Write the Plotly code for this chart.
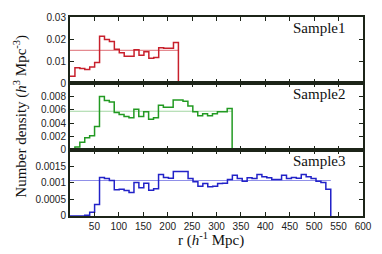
import numpy as np
import plotly.graph_objects as go
from plotly.subplots import make_subplots

# ---- data ----
sample_names = ["Sample1", "Sample2", "Sample3"]
r_max = [222, 332, 534]
mean_density = [0.0149, 0.0058, 0.00107]

sample1 = [0.0032, 0.0071, 0.0067, 0.0062, 0.0074, 0.0094, 0.0213, 0.0198, 0.0189, 0.0154,
           0.0138, 0.0123, 0.0123, 0.0152, 0.0127, 0.0143, 0.0113, 0.0117, 0.0161, 0.0159,
           0.0159, 0.0185]
sample2 = [0.0, 0.0004, 0.0011, 0.0018, 0.0021, 0.0035, 0.0080, 0.0074, 0.0072, 0.0056,
           0.0053, 0.0050, 0.0048, 0.0061, 0.0050, 0.0057, 0.0046, 0.0048, 0.0067, 0.0064,
           0.0064, 0.0075, 0.0075, 0.0073, 0.0066, 0.0057, 0.0051, 0.0054, 0.0051, 0.0054,
           0.0057, 0.0057, 0.0062]
sample3 = [0.0, 0.0, 0.0, 0.00002, 0.00011, 0.00035, 0.00116, 0.00113, 0.00107, 0.00079,
           0.00081, 0.00077, 0.00071, 0.00101, 0.00085, 0.00099, 0.00078, 0.00082, 0.00125, 0.00116,
           0.00114, 0.00134, 0.00134, 0.00134, 0.00113, 0.00103, 0.00090, 0.00098, 0.00088, 0.00090,
           0.00098, 0.00099, 0.00110, 0.00123, 0.00113, 0.00105, 0.00115, 0.00113, 0.00125, 0.00118,
           0.00115, 0.00110, 0.00110, 0.00123, 0.00113, 0.00116, 0.00114, 0.00125, 0.00118, 0.00113,
           0.00105, 0.00101, 0.00081]
series = [sample1, sample2, sample3]

y_ranges = [[0, 0.03], [0, 0.01], [0, 0.002]]
y_ticks = [[0, 0.01, 0.02, 0.03],
           [0, 0.002, 0.004, 0.006, 0.008],
           [0, 0.0005, 0.001, 0.0015]]
y_ticktext = [["0", "0.01", "0.02", "0.03"],
              ["0", "0.002", "0.004", "0.006", "0.008"],
              ["0", "0.0005", "0.001", "0.0015"]]
x_ticks = [50, 100, 150, 200, 250, 300, 350, 400, 450, 500, 550, 600]

line_colors = ["#c8202c", "#229a22", "#2222c8"]
mean_colors = ["#e48a90", "#a2d6a2", "#9090e8"]

# ---- figure ----
fig = make_subplots(rows=3, cols=1, shared_xaxes=True, vertical_spacing=0)

for i, vals in enumerate(series):
    n = len(vals)
    edges = np.linspace(0, r_max[i], n + 1)
    xs = list(edges) + [r_max[i]]
    ys = list(vals) + [vals[-1], 0]
    fig.add_trace(go.Scatter(x=[0, r_max[i]], y=[mean_density[i]] * 2, mode="lines",
                             line=dict(color=mean_colors[i], width=1.1),
                             showlegend=False, hoverinfo="skip"), row=i + 1, col=1)
    fig.add_trace(go.Scatter(x=xs, y=ys, mode="lines", line_shape="hv",
                             line=dict(color=line_colors[i], width=1.5),
                             showlegend=False), row=i + 1, col=1)
    fig.update_yaxes(range=y_ranges[i], tickvals=y_ticks[i], ticktext=y_ticktext[i],
                     row=i + 1, col=1)
    yref = "y domain" if i == 0 else f"y{i + 1} domain"
    xref = "x domain" if i == 0 else f"x{i + 1} domain"
    fig.add_annotation(text=sample_names[i], xref=xref, yref=yref, x=0.95, y=1,
                       xanchor="right", yanchor="top", yshift=-1, showarrow=False,
                       font=dict(family="Liberation Serif", size=15, color="#111"))

axis_common = dict(showline=True, linecolor="#1c2418", linewidth=2, mirror="ticks",
                   ticks="inside", ticklen=4, tickwidth=1.2, tickcolor="#1c2418",
                   showgrid=False, zeroline=False,
                   tickfont=dict(family="Liberation Sans", size=10, color="#222"))
fig.update_xaxes(range=[0, 600], tickvals=x_ticks, **axis_common)
fig.update_yaxes(**axis_common)

fig.add_annotation(text="r (<i>h</i><sup>-1</sup> Mpc)", xref="paper", yref="paper",
                   x=0.48, y=-0.12, xanchor="center", yanchor="middle", showarrow=False,
                   font=dict(family="Liberation Serif", size=15, color="#111"))
fig.add_annotation(text="Number density (<i>h</i><sup>3</sup> Mpc<sup>-3</sup>)",
                   xref="paper", yref="paper", x=-0.17, y=0.5, xanchor="center",
                   yanchor="middle", textangle=-90, showarrow=False,
                   font=dict(family="Liberation Serif", size=15, color="#111"))

fig.update_layout(width=382, height=254, margin=dict(l=70, r=10, t=17, b=38),
                  plot_bgcolor="white", paper_bgcolor="white")
fig.write_html("out.html", config={"displayModeBar": False},
               post_script="document.body.style.margin='0';document.body.style.overflow='hidden';")
